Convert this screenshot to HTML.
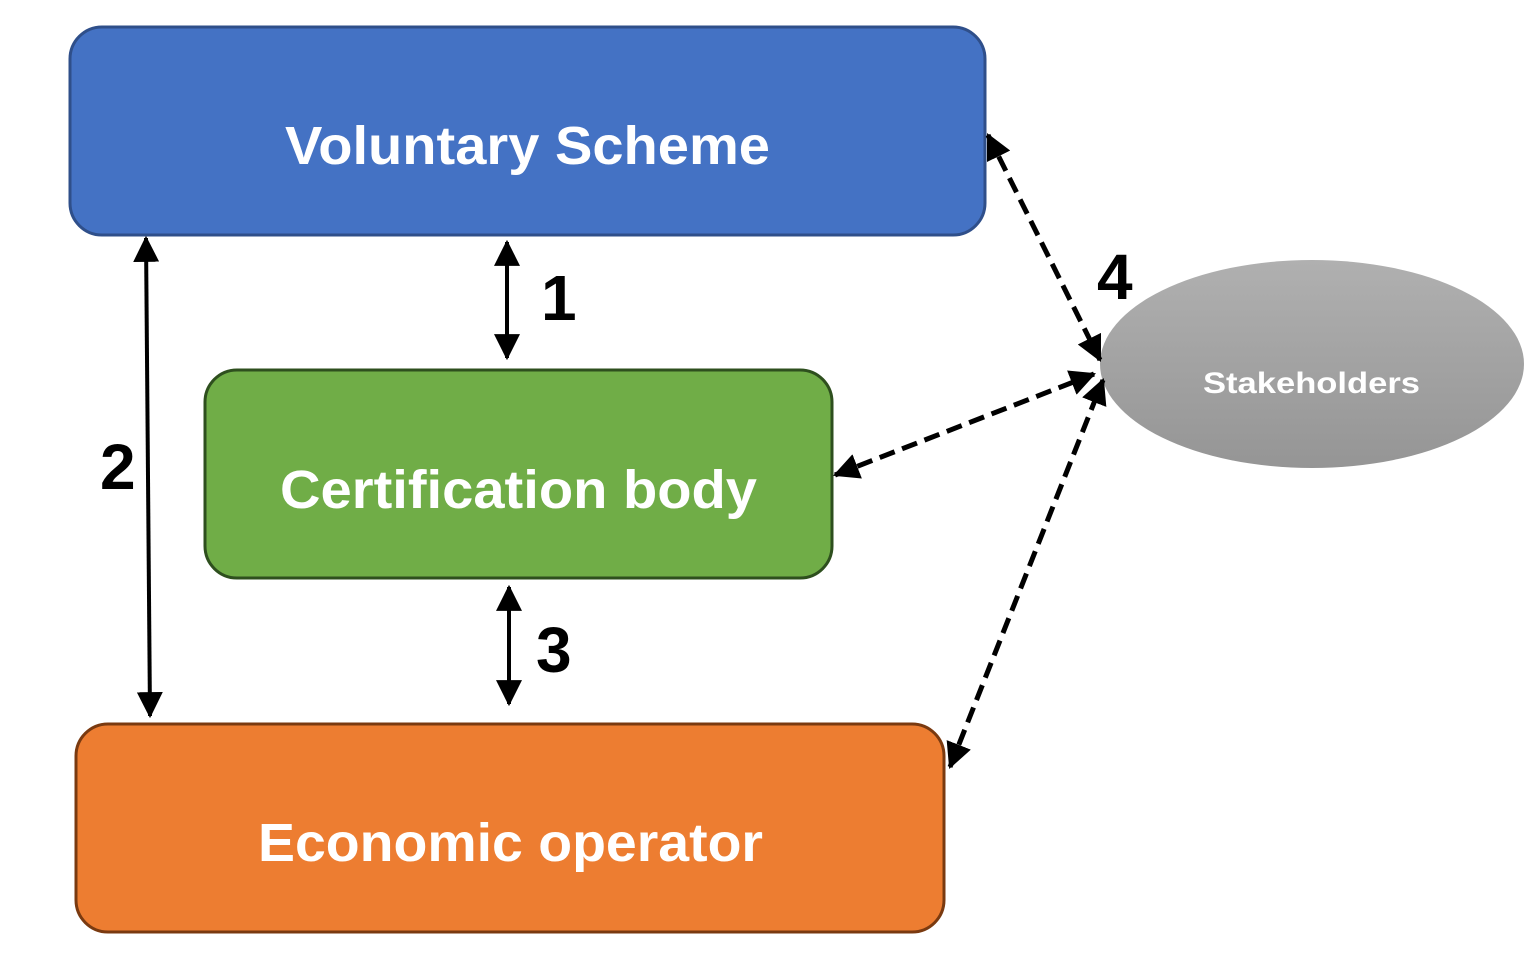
<!DOCTYPE html>
<html><head><meta charset="utf-8"><style>html,body{margin:0;padding:0;background:#fff}svg{display:block}</style></head>
<body>
<svg width="1535" height="962" viewBox="0 0 1535 962" xmlns="http://www.w3.org/2000/svg">
<defs>
<linearGradient id="g" x1="0" y1="0" x2="0" y2="1"><stop offset="0" stop-color="#b0b0b0"/><stop offset="1" stop-color="#959595"/></linearGradient>
<marker id="a" markerUnits="userSpaceOnUse" markerWidth="26" markerHeight="26" refX="22" refY="12" orient="auto-start-reverse" viewBox="0 0 24 24"><path d="M0,0 L24,12 L0,24 Z" fill="#000"/></marker>
</defs>
<rect x="70" y="27" width="915" height="208" rx="32" fill="#4472C4" stroke="#2F4F8A" stroke-width="3"/>
<rect x="205" y="370" width="627" height="208" rx="32" fill="#70AD47" stroke="#2E4F1E" stroke-width="3"/>
<rect x="76" y="724" width="868" height="208" rx="32" fill="#ED7D31" stroke="#7A3A10" stroke-width="3"/>
<ellipse cx="1312" cy="364" rx="212" ry="104" fill="url(#g)"/>
<g font-family="Liberation Sans, sans-serif" font-weight="bold" fill="#fff">
<text x="285" y="164" font-size="54" textLength="485" lengthAdjust="spacingAndGlyphs">Voluntary Scheme</text>
<text x="280" y="508" font-size="54" textLength="477" lengthAdjust="spacingAndGlyphs">Certification body</text>
<text x="258" y="861" font-size="54" textLength="505" lengthAdjust="spacingAndGlyphs">Economic operator</text>
<text x="1203" y="393" font-size="30" textLength="217" lengthAdjust="spacingAndGlyphs">Stakeholders</text>
</g>
<g font-family="Liberation Sans, sans-serif" font-weight="bold" fill="#000" font-size="64">
<text x="541" y="320">1</text>
<text x="100" y="489">2</text>
<text x="536" y="672">3</text>
<text x="1097" y="299">4</text>
</g>
<g stroke="#000" stroke-width="4" fill="none">
<line x1="507" y1="242" x2="507" y2="358" marker-start="url(#a)" marker-end="url(#a)"/>
<line x1="146" y1="238" x2="150" y2="716" marker-start="url(#a)" marker-end="url(#a)"/>
<line x1="509" y1="587" x2="509" y2="704" marker-start="url(#a)" marker-end="url(#a)"/>
<g stroke-dasharray="16,8" stroke-width="5">
<line x1="988" y1="135" x2="1100" y2="360" marker-start="url(#a)" marker-end="url(#a)"/>
<line x1="835" y1="475" x2="1094" y2="374" marker-start="url(#a)" marker-end="url(#a)"/>
<line x1="950" y1="767" x2="1103" y2="380" marker-start="url(#a)" marker-end="url(#a)"/>
</g>
</g>
</svg>
</body></html>
